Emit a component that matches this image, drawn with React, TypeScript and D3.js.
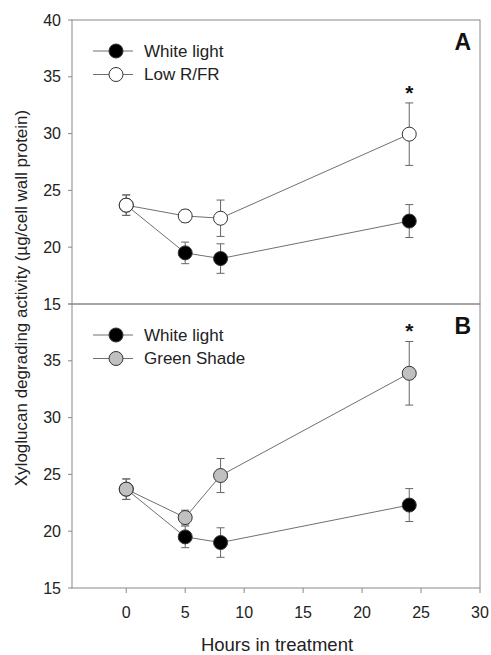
import * as d3 from 'd3'
import React from 'react'

// hours in treatment
const hours = [0, 5, 8, 24]

// panel A
const whiteMean = [23.7, 19.5, 19.0, 22.3]
const whiteErr = [0.9, 0.95, 1.3, 1.45]
const lowRfrMean = [23.7, 22.75, 22.55, 29.95]
const lowRfrErr = [0.9, 0.55, 1.6, 2.75]

// panel B
const greenMean = [23.7, 21.2, 24.9, 33.9]
const greenErr = [0.9, 0.65, 1.5, 2.8]

const xTicks = [0, 5, 10, 15, 20, 25, 30]
const yTicks = [15, 20, 25, 30, 35, 40]

const W = 491
const H = 655
const left = 72
const right = 480
const font = 'Liberation Sans, Arial, sans-serif'

const x = d3.scaleLinear().domain([-4.6, 30]).range([left, right])

const panels = [
  {
    label: 'A',
    y: d3.scaleLinear().domain([15, 40]).range([304, 20]),
    series: [
      { name: 'White light', mean: whiteMean, err: whiteErr, fill: '#000000' },
      { name: 'Low R/FR', mean: lowRfrMean, err: lowRfrErr, fill: '#ffffff' }
    ],
    yLabels: [15, 20, 25, 30, 35, 40],
    xAxis: false
  },
  {
    label: 'B',
    y: d3.scaleLinear().domain([15, 40]).range([588, 304]),
    series: [
      { name: 'White light', mean: whiteMean, err: whiteErr, fill: '#000000' },
      { name: 'Green Shade', mean: greenMean, err: greenErr, fill: '#c0c0c0' }
    ],
    yLabels: [15, 20, 25, 30, 35],
    xAxis: true
  }
]

const Panel = ({ p }: { p: (typeof panels)[number] }) => {
  const y = p.y
  const [y0, y1] = y.range()
  const line = d3
    .line<number>()
    .x((_, i) => x(hours[i]))
    .y((d) => y(d))
  const last = p.series[1]
  const lastI = hours.length - 1
  const legY = y1 + 31
  return (
    <g>
      {/* frame */}
      <rect x={left} y={y1} width={right - left} height={y0 - y1} fill='none' stroke='#888' strokeWidth={1} />

      {/* y ticks */}
      {yTicks.map((t) => (
        <line key={t} x1={left - 4} x2={left} y1={y(t)} y2={y(t)} stroke='#888' />
      ))}
      {p.yLabels.map((t) => (
        <text key={t} x={left - 11} y={y(t)} dy='0.35em' textAnchor='end' fontSize={16} fill='#222'>
          {t}
        </text>
      ))}

      {/* x ticks */}
      {p.xAxis &&
        xTicks.map((t) => (
          <g key={t}>
            <line x1={x(t)} x2={x(t)} y1={y0} y2={y0 + 5} stroke='#888' />
            <text x={x(t)} y={y0 + 24} dy='0.35em' textAnchor='middle' fontSize={16} fill='#222'>
              {t}
            </text>
          </g>
        ))}

      {/* lines */}
      {p.series.map((s) => (
        <path key={s.name + 'l'} d={line(s.mean) || ''} fill='none' stroke='#707070' strokeWidth={1} />
      ))}

      {/* error bars and markers */}
      {p.series.map((s) => (
        <g key={s.name}>
          {s.mean.map((m, i) => {
            const cx = x(hours[i])
            const top = y(m + s.err[i])
            const bot = y(m - s.err[i])
            return (
              <g key={i}>
                <line x1={cx} x2={cx} y1={top} y2={bot} stroke='#666' />
                <line x1={cx - 4} x2={cx + 4} y1={top} y2={top} stroke='#666' />
                <line x1={cx - 4} x2={cx + 4} y1={bot} y2={bot} stroke='#666' />
                <circle cx={cx} cy={y(m)} r={7} fill={s.fill} stroke='#333' strokeWidth={1} />
              </g>
            )
          })}
        </g>
      ))}

      {/* significance */}
      <text
        x={x(hours[lastI])}
        y={y(last.mean[lastI] + last.err[lastI]) - 3}
        textAnchor='middle'
        fontSize={21}
        fontWeight='bold'
        fill='#111'
      >
        *
      </text>

      {/* legend */}
      {p.series.map((s, i) => (
        <g key={s.name + 'leg'} transform={`translate(0,${legY + i * 23.5})`}>
          <line x1={93} x2={133} y1={0} y2={0} stroke='#707070' />
          <circle cx={116} cy={0} r={7} fill={s.fill} stroke='#333' />
          <text x={144} y={0} dy='0.35em' fontSize={17} fill='#222'>
            {s.name}
          </text>
        </g>
      ))}

      {/* panel label */}
      <text x={471} y={y1 + 30} textAnchor='end' fontSize={23} fontWeight='bold' fill='#111'>
        {p.label}
      </text>
    </g>
  )
}

export default function App() {
  return (
    <svg
      width={W}
      height={H}
      style={{ position: 'absolute', left: 0, top: 0, background: '#fff' }}
      fontFamily={font}
    >
      {panels.map((p) => (
        <Panel key={p.label} p={p} />
      ))}
      <text x={277} y={651} textAnchor='middle' fontSize={18.5} fill='#222'>
        Hours in treatment
      </text>
      <text
        transform={`translate(21,298) rotate(-90)`}
        textAnchor='middle'
        dy='0.35em'
        fontSize={17}
        fill='#222'
      >
        Xyloglucan degrading activity (µg/cell wall protein)
      </text>
    </svg>
  )
}
